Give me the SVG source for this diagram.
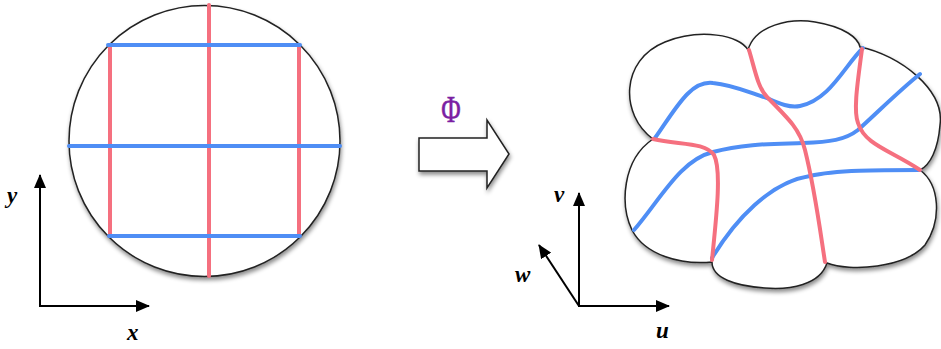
<svg xmlns="http://www.w3.org/2000/svg" width="941" height="349" viewBox="0 0 941 349">
<style>
.outline{fill:#fff;stroke:#222;stroke-width:1.5;filter:url(#sh)}
.blue{fill:none;stroke:#4f8ef5;stroke-width:4;stroke-linecap:round}
.red{fill:none;stroke:#f5707f;stroke-width:4;stroke-linecap:round}
.axis{fill:none;stroke:#000;stroke-width:2;marker-end:url(#ah)}
.lbl{font-family:"Liberation Serif",serif;font-style:italic;font-weight:bold;font-size:23px;fill:#000}
.phi{font-family:"Liberation Serif",serif;font-size:38px;fill:#7b1fa2;stroke:#7b1fa2;stroke-width:0.6}
</style>
<defs>
<filter id="sh" x="-10%" y="-10%" width="130%" height="130%">
<feDropShadow dx="1" dy="3" stdDeviation="2" flood-color="#000" flood-opacity="0.45"/>
</filter>
<marker id="ah" markerWidth="14" markerHeight="12" refX="13" refY="6" orient="auto" markerUnits="userSpaceOnUse" viewBox="0 0 14 12">
<path d="M0,0 L14,6 L0,12 Z" fill="#000"/>
</marker>
</defs>
<g id="disk">
<circle class="outline" cx="204.5" cy="141" r="135.5"/>
<line class="red" x1="209" y1="5" x2="209" y2="276"/>
<line class="red" x1="110" y1="45" x2="110" y2="236"/>
<line class="red" x1="299" y1="45" x2="299" y2="236"/>
<line class="blue" x1="108" y1="45" x2="300" y2="45"/>
<line class="blue" x1="69" y1="146" x2="340" y2="146"/>
<line class="blue" x1="109" y1="236" x2="300" y2="236"/>
</g>
<g id="axes-xy">
<line class="axis" x1="40" y1="306" x2="40" y2="175"/>
<line class="axis" x1="39" y1="306" x2="149" y2="306"/>
<text class="lbl" x="7" y="203">y</text>
<text class="lbl" x="127" y="340">x</text>
</g>
<g id="map-arrow">
<path class="outline" d="M419,138 L487,138 L487,120 L509,154 L487,188 L487,171 L419,171 Z" stroke-width="1.2"/>
<text class="phi" text-anchor="middle" transform="translate(451,122) scale(0.7,1)">Φ</text>
</g>
<g id="axes-uvw">
<line class="axis" x1="579" y1="306" x2="579" y2="193"/>
<line class="axis" x1="578" y1="306" x2="669" y2="306"/>
<line class="axis" x1="579" y1="306" x2="539" y2="245"/>
<text class="lbl" x="554" y="202">v</text>
<text class="lbl" x="515" y="282">w</text>
<text class="lbl" x="656" y="338">u</text>
</g>
<g id="blob">
<path class="outline" d="M653,139 C620,115 620,60 665,42 C700,28 740,35 748,50 C755,25 790,18 815,22 C845,27 858,38 860,47 C900,55 945,90 940,125 C938,150 930,165 920,170 C940,185 942,220 925,245 C905,268 850,272 827,263 C820,285 790,290 765,288 C735,286 712,278 712,262 C680,265 645,255 632,230 C620,205 622,160 653,139 Z"/>
<path class="blue" d="M655,138 C675,110 690,80 713,83 C735,85 755,95 767,98 C780,104 790,108 800,106 C830,100 845,65 863,48"/>
<path class="blue" d="M634,230 C660,200 680,160 713,152 C745,143 780,144 803,143 C830,142 845,140 858,130 C880,110 900,90 920,74"/>
<path class="blue" d="M712,258 C735,220 770,182 810,176 C835,170 880,170 920,170"/>
<path class="red" d="M653,139 C680,145 705,142 714,155 C722,170 716,220 712,260"/>
<path class="red" d="M749,50 C755,70 758,88 767,97 C790,120 800,130 805,150 C815,190 820,230 825,262"/>
<path class="red" d="M862,49 C858,80 853,110 858,123 C865,145 890,150 920,170"/>
</g>
</svg>
